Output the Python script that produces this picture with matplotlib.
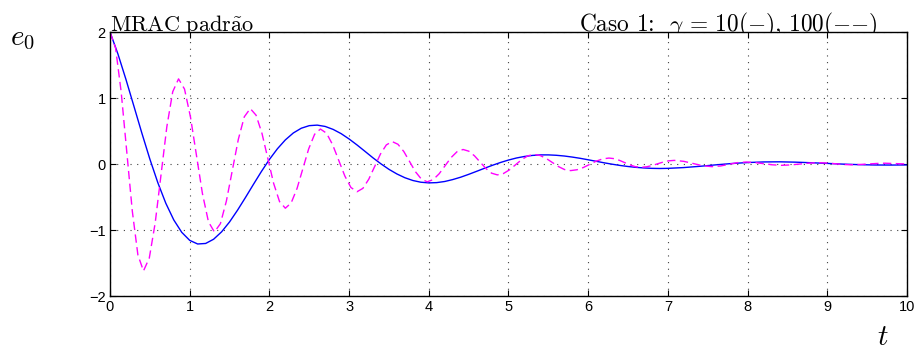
import matplotlib
matplotlib.use("Agg")
import matplotlib.pyplot as plt

plt.rcParams['mathtext.fontset'] = 'cm'
plt.rcParams['font.family'] = ['Liberation Sans', 'DejaVu Sans']

# --- data ---
t_blue = [0.0, 0.1, 0.2, 0.3, 0.4, 0.5, 0.6, 0.7, 0.8, 0.9,
          1.0, 1.1, 1.2, 1.3, 1.4, 1.5, 1.6, 1.7, 1.8, 1.9,
          2.0, 2.1, 2.2, 2.3, 2.4, 2.5, 2.6, 2.7, 2.8, 2.9,
          3.0, 3.1, 3.2, 3.3, 3.4, 3.5, 3.6, 3.7, 3.8, 3.9,
          4.0, 4.1, 4.2, 4.3, 4.4, 4.5, 4.6, 4.7, 4.8, 4.9,
          5.0, 5.1, 5.2, 5.3, 5.4, 5.5, 5.6, 5.7, 5.8, 5.9,
          6.0, 6.1, 6.2, 6.3, 6.4, 6.5, 6.6, 6.7, 6.8, 6.9,
          7.0, 7.2, 7.4, 7.6, 7.8, 8.0, 8.2, 8.4, 8.6, 8.8,
          9.0, 9.2, 9.4, 9.6, 9.8, 10.0]
e_blue = [2.000, 1.665, 1.282, 0.876, 0.467, 0.075, -0.283, -0.594, -0.847, -1.035,
          -1.157, -1.212, -1.204, -1.140, -1.028, -0.878, -0.700, -0.507, -0.308, -0.113,
          0.069, 0.230, 0.365, 0.470, 0.542, 0.581, 0.589, 0.569, 0.524, 0.460,
          0.379, 0.288, 0.191, 0.093, 0.002, -0.081, -0.151, -0.208, -0.250, -0.276,
          -0.286, -0.282, -0.265, -0.236, -0.200, -0.157, -0.111, -0.064, -0.019, 0.023,
          0.060, 0.091, 0.114, 0.130, 0.138, 0.138, 0.132, 0.121, 0.105, 0.086,
          0.064, 0.041, 0.018, -0.003, -0.022, -0.038, -0.051, -0.060, -0.066, -0.068,
          -0.066, -0.054, -0.035, -0.013, 0.007, 0.022, 0.031, 0.033, 0.028, 0.019,
          0.009, -0.002, -0.010, -0.015, -0.016, -0.014]

t_mag = [0.0, 0.07, 0.14, 0.21, 0.28, 0.35,
         0.42, 0.493, 0.567, 0.64, 0.713, 0.787,
         0.86, 0.935, 1.01, 1.085, 1.16, 1.235,
         1.31, 1.385, 1.46, 1.535, 1.61, 1.685,
         1.76, 1.833, 1.907, 1.98, 2.053, 2.127,
         2.20, 2.273, 2.347, 2.42, 2.493, 2.567,
         2.64, 2.717, 2.793, 2.87, 2.947, 3.023,
         3.10, 3.173, 3.247, 3.32, 3.393, 3.467,
         3.54, 3.613, 3.687, 3.76, 3.833, 3.907,
         3.98, 4.055, 4.13, 4.205, 4.28, 4.355,
         4.43, 4.502, 4.573, 4.645, 4.717, 4.788,
         4.86, 4.937, 5.013, 5.09, 5.167, 5.243,
         5.32, 5.397, 5.473, 5.55, 5.627, 5.703,
         5.78, 5.86, 5.94, 6.02, 6.10, 6.18,
         6.26, 6.327, 6.393, 6.46, 6.527, 6.593,
         6.66, 6.73, 6.80, 6.87, 6.94, 7.01,
         7.08, 7.2, 7.315, 7.43, 7.55, 7.66, 7.765, 7.87,
         7.98, 8.09, 8.2, 8.31, 8.42, 8.54, 8.66, 8.78,
         8.9, 9.0, 9.1, 9.2, 9.3, 9.4, 9.51, 9.62, 9.72, 9.86, 10.0]
e_mag = [2.000, 1.757, 1.095, 0.190, -0.715, -1.378,
         -1.620, -1.425, -0.893, -0.165, 0.563, 1.095,
         1.290, 1.135, 0.710, 0.130, -0.450, -0.875,
         -1.030, -0.905, -0.563, -0.095, 0.373, 0.715,
         0.840, 0.739, 0.463, 0.085, -0.293, -0.569,
         -0.670, -0.590, -0.370, -0.070, 0.230, 0.450,
         0.530, 0.466, 0.293, 0.055, -0.183, -0.356,
         -0.420, -0.369, -0.230, -0.040, 0.150, 0.289,
         0.340, 0.299, 0.188, 0.035, -0.118, -0.229,
         -0.270, -0.237, -0.148, -0.025, 0.098, 0.187,
         0.220, 0.194, 0.124, 0.028, -0.069, -0.139,
         -0.165, -0.144, -0.088, -0.010, 0.068, 0.124,
         0.145, 0.129, 0.084, 0.023, -0.039, -0.084,
         -0.100, -0.087, -0.053, -0.005, 0.043, 0.077,
         0.090, 0.081, 0.055, 0.020, -0.015, -0.041,
         -0.050, -0.043, -0.024, 0.003, 0.029, 0.048,
         0.055, 0.040, 0.008, -0.025, -0.040, -0.030, -0.005, 0.020,
         0.030, 0.022, 0.005, -0.012, -0.020, -0.014, 0.000, 0.014,
         0.020, 0.014, 0.004, -0.007, -0.012, -0.008, 0.000, 0.008, 0.012, 0.006, 0.000]

xticks = [0, 1, 2, 3, 4, 5, 6, 7, 8, 9, 10]
yticks = [-2, -1, 0, 1, 2]

fig = plt.figure(figsize=(9.2, 3.53), dpi=100)
ax = fig.add_axes([110 / 920, 1 - 296 / 353, 797 / 920, 264 / 353])

ax.plot(t_blue, e_blue, color=(0, 0, 1), lw=1.0, solid_joinstyle='round')
ax.plot(t_mag, e_mag, color=(1, 0, 1), lw=1.0, dashes=(6, 3.2))

ax.set_xlim(0, 10)
ax.set_ylim(-2, 2)
ax.set_xticks(xticks)
ax.set_yticks(yticks)
ax.set_xticklabels([str(v) for v in xticks])
ax.set_yticklabels([str(v).replace('-', '\u2212') for v in yticks])
ax.tick_params(direction='in', top=True, right=True, length=4, width=0.8,
               labelsize=10.5, pad=3, colors='black')
ax.grid(True, color='0.25', lw=0.8, linestyle=(0, (1, 5)))
for s in ax.spines.values():
    s.set_linewidth(1.0)

fig.text(110 / 920, 1 - 31 / 353, r'$\mathrm{MRAC\ padr\tilde{a}o}$',
         fontsize=16, ha='left', va='baseline', zorder=-1)
fig.text(878 / 920, 1 - 31 / 353, r'Caso 1:  $\gamma\,=\,10(-),\,100({-}{-})$',
         fontsize=16.8, family='cmr10', ha='right', va='baseline', zorder=-1)
fig.text(10 / 920, 1 - 45 / 353, r'$e_0$', fontsize=21, ha='left', va='baseline')
fig.text(877 / 920, 1 - 345 / 353, r'$t$', fontsize=21, ha='left', va='baseline')

fig.savefig('out.png', dpi=100)
